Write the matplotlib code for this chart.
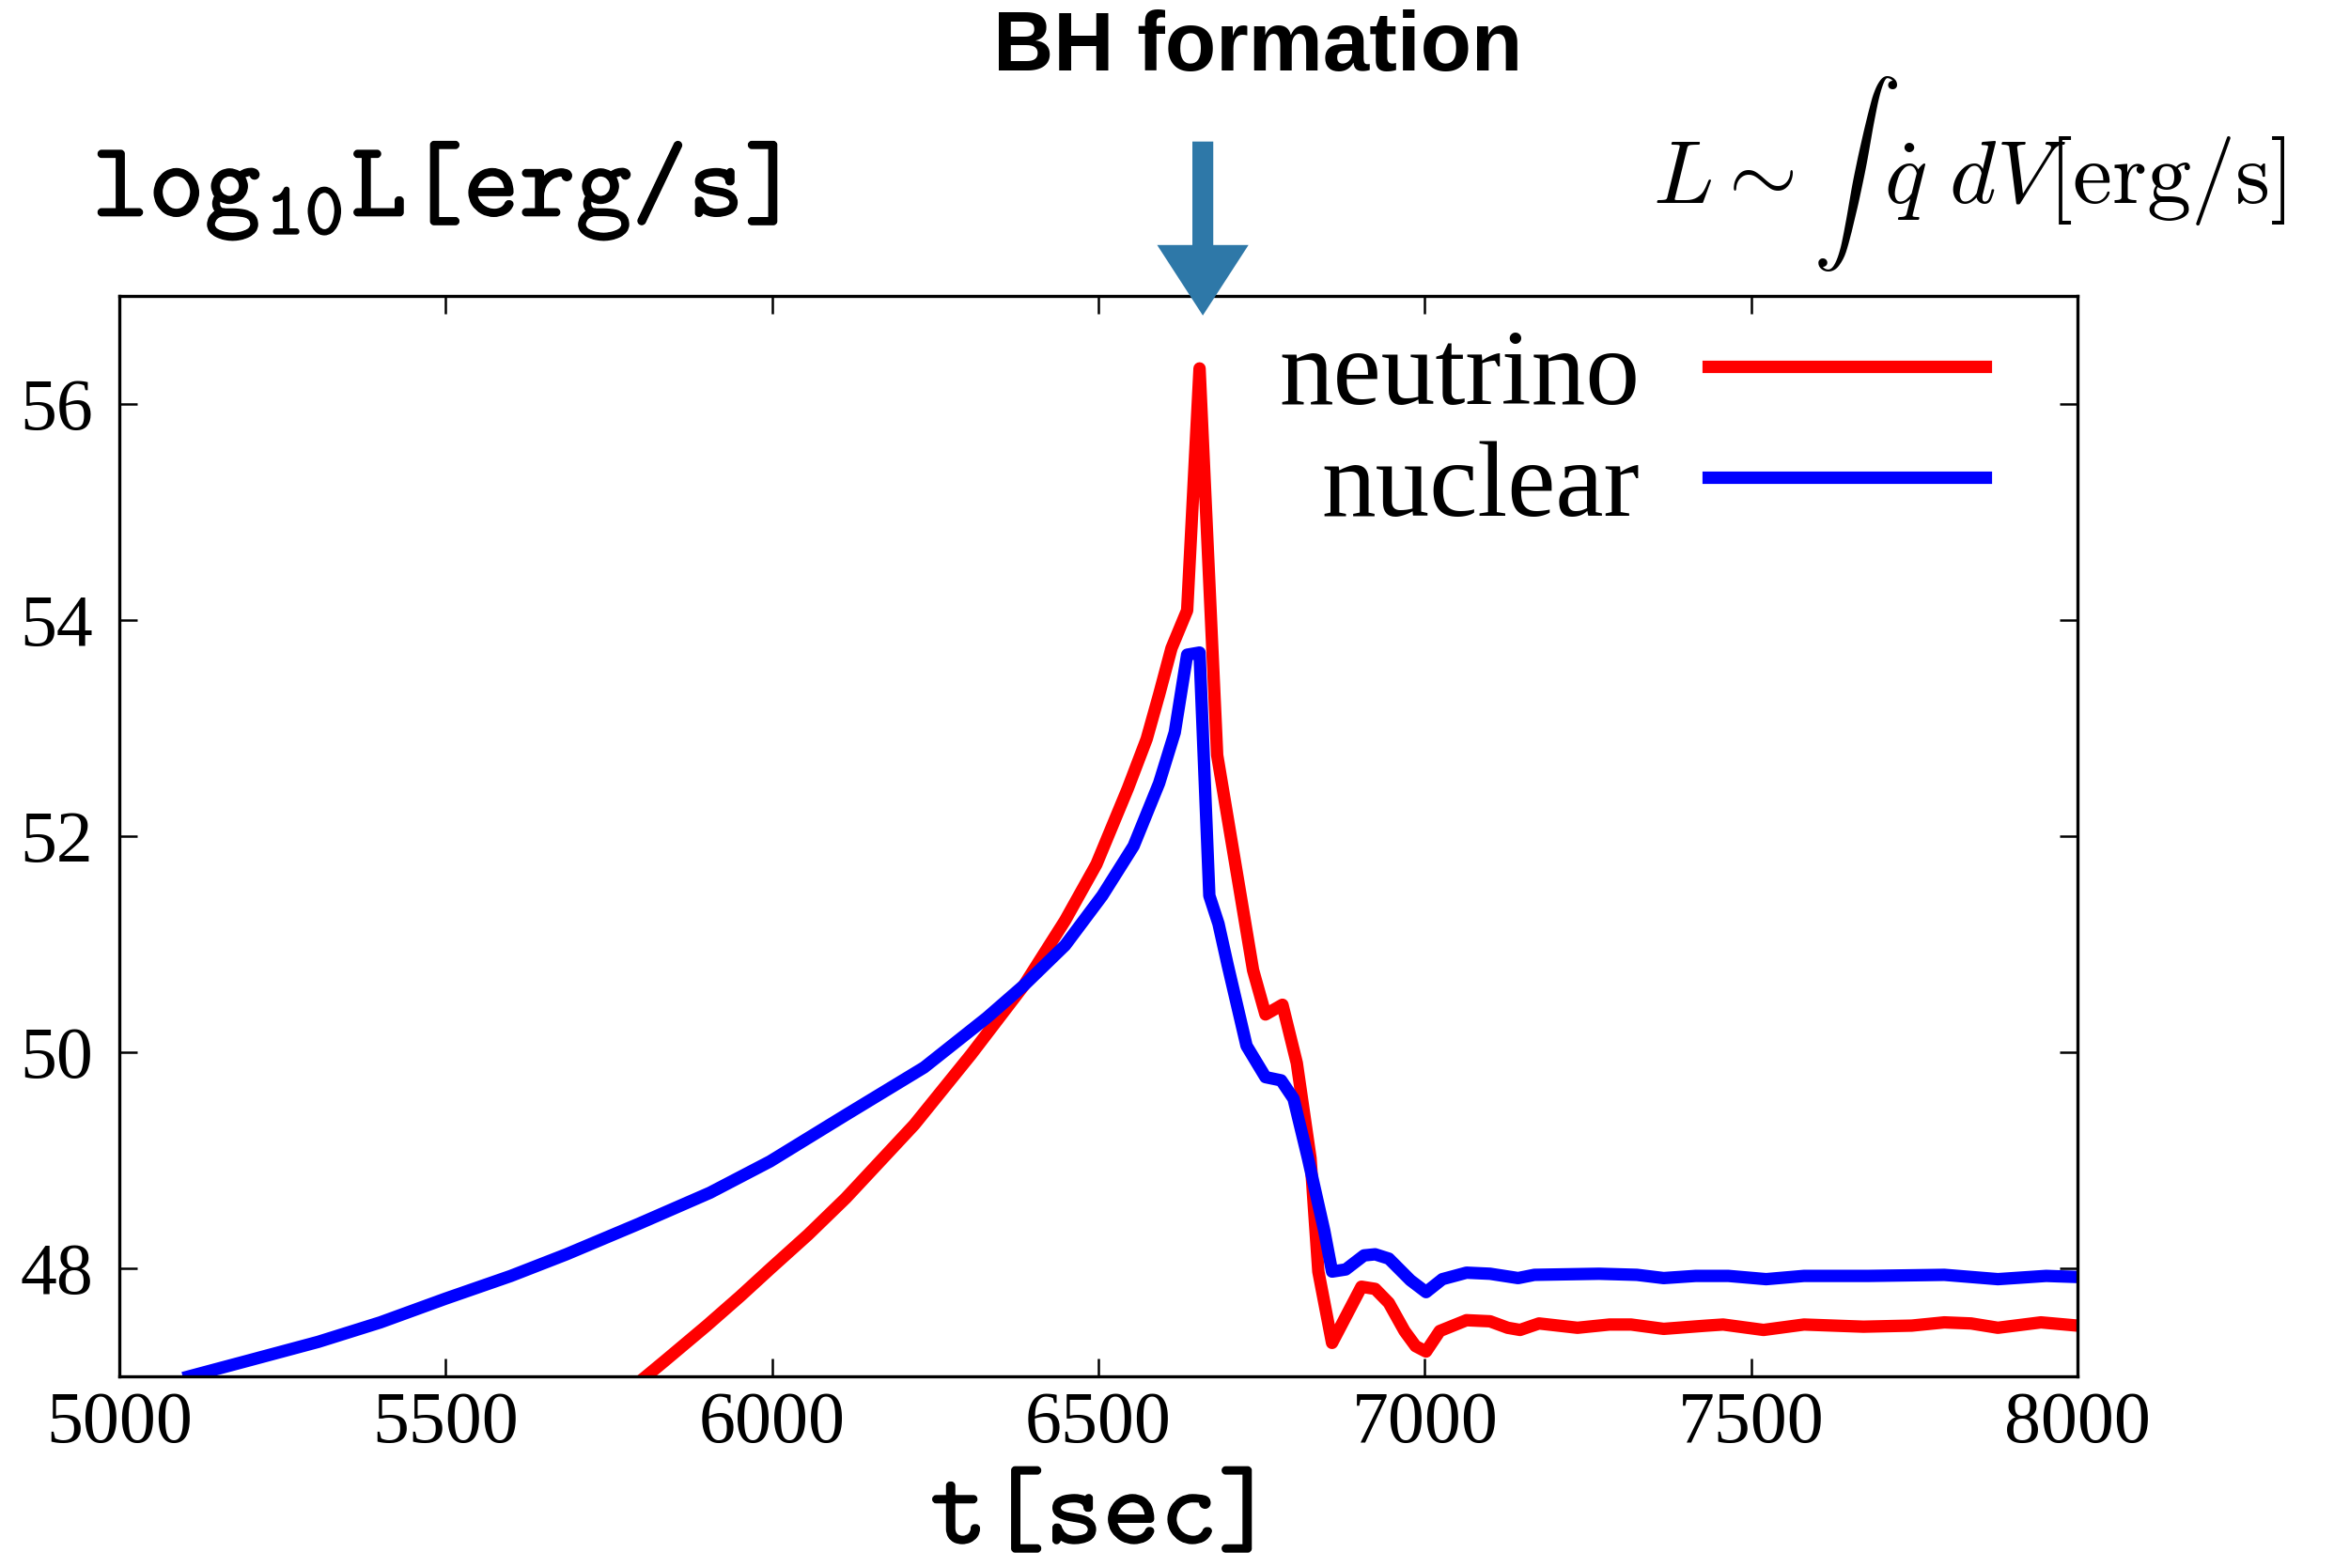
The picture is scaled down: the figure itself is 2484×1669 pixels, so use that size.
import numpy as np
import matplotlib
matplotlib.use('Agg')
from matplotlib import pyplot as plt
from matplotlib import patheffects

## luminosity curves around BH formation (log10 L [erg/s])
t_nuclear = [5107, 5200, 5305, 5400, 5500, 5600, 5685, 5795, 5905, 5997,
             6113, 6233, 6329, 6386, 6449, 6506, 6554, 6593, 6617, 6636,
             6655, 6670, 6684, 6698, 6727, 6756, 6780, 6799, 6821, 6846,
             6858, 6879, 6907, 6924, 6945, 6978, 7002, 7027, 7064, 7100,
             7143, 7168, 7267, 7325, 7366, 7415, 7465, 7523, 7581, 7680,
             7796, 7878, 7952, 8000]
L_nuclear = [47.00, 47.15, 47.32, 47.50, 47.72, 47.93, 48.13, 48.41, 48.70, 48.99,
             49.42, 49.86, 50.32, 50.62, 50.99, 51.45, 51.91, 52.49, 52.96, 53.68,
             53.70, 51.45, 51.19, 50.81, 50.06, 49.77, 49.74, 49.57, 49.02, 48.35,
             47.97, 47.99, 48.12, 48.13, 48.09, 47.89, 47.78, 47.90, 47.96, 47.95,
             47.91, 47.94, 47.95, 47.94, 47.91, 47.93, 47.93, 47.90, 47.93, 47.93,
             47.94, 47.90, 47.93, 47.92]

t_neutrino = [5807, 5835, 5900, 5951, 5998, 6055, 6113, 6218, 6305, 6386,
              6449, 6497, 6545, 6574, 6593, 6612, 6636, 6655, 6682, 6737,
              6756, 6782, 6804, 6825, 6837, 6858, 6903, 6924, 6945, 6969,
              6986, 7002, 7023, 7064, 7100, 7127, 7146, 7175, 7234, 7283,
              7316, 7366, 7432, 7457, 7519, 7581, 7672, 7746, 7796, 7837,
              7878, 7944, 8000]
L_neutrino = [47.00, 47.14, 47.47, 47.74, 48.00, 48.31, 48.65, 49.33, 49.98, 50.62,
              51.22, 51.74, 52.44, 52.90, 53.31, 53.74, 54.09, 56.33, 52.75, 50.76,
              50.35, 50.44, 49.90, 49.02, 47.97, 47.31, 47.83, 47.81, 47.68, 47.42,
              47.28, 47.23, 47.42, 47.52, 47.51, 47.45, 47.43, 47.49, 47.45, 47.48,
              47.48, 47.44, 47.47, 47.48, 47.43, 47.48, 47.46, 47.47, 47.50, 47.49,
              47.45, 47.50, 47.47]

xticks = [5000, 5500, 6000, 6500, 7000, 7500, 8000]
yticks = [48, 50, 52, 54, 56]
t_bh = 6660  # BH formation time

# typewriter font for the axis labels (subscript digits too)
plt.rcParams['mathtext.fontset'] = 'custom'
plt.rcParams['mathtext.rm'] = 'cmtt10'
plt.rcParams['mathtext.it'] = 'cmtt10'
plt.rcParams['mathtext.tt'] = 'cmtt10'

fig = plt.figure(figsize=(24.84, 16.69), dpi=100)
ax = fig.add_axes([0.0511, 0.1222, 0.8390, 0.6890])

ax.plot(t_neutrino, L_neutrino, color='#ff0000', lw=9.5, label='neutrino')
ax.plot(t_nuclear, L_nuclear, color='#0000ff', lw=9.5, label='nuclear')

ax.set_xlim(5000, 8000)
ax.set_ylim(47, 57)
ax.set_xticks(xticks)
ax.set_yticks(yticks)
ax.tick_params(direction='in', length=14, width=1.8, top=True, right=True)
ax.tick_params(axis='x', pad=11)
ax.tick_params(axis='y', pad=20)
for lab in ax.get_xticklabels() + ax.get_yticklabels():
    lab.set_family('Liberation Serif')
    lab.set_fontsize(56)
for sp in ax.spines.values():
    sp.set_linewidth(2.4)

leg = ax.legend(loc='upper right', bbox_to_anchor=(0.953, 0.970), frameon=False,
                markerfirst=False, prop={'family': 'Liberation Serif', 'size': 83},
                handlelength=2.56, handletextpad=0.63, labelspacing=0.12,
                borderpad=0, borderaxespad=0)

# arrow marking BH formation
ax.annotate('', xy=(t_bh, 56.82), xytext=(t_bh, 58.43),
            arrowprops=dict(width=16, headwidth=70, headlength=54, shrink=0,
                            color='#2e78a8', lw=0),
            annotation_clip=False)
fig.text(0.539, 0.969, 'BH formation', ha='center', va='center',
         family='Liberation Sans', weight='bold', fontsize=64)

# axis labels
semibold = [patheffects.withStroke(linewidth=1.0, foreground='black')]
fig.text(0.0395, 0.862, 'log$_{10}$L[erg/s]', ha='left', va='baseline',
         family='cmtt10', fontsize=82, math_fontfamily='custom', path_effects=semibold)
fig.text(0.4725, 0.016, 't[sec]', ha='center', va='baseline',
         family='cmtt10', fontsize=84, math_fontfamily='custom', path_effects=semibold)

fig.text(0.708, 0.870, r'$L \sim \int\;\dot{q}\ dV\mathrm{[erg/s]}$', ha='left',
         va='baseline', fontsize=68, math_fontfamily='cm')

fig.savefig('out.png', dpi=100)
